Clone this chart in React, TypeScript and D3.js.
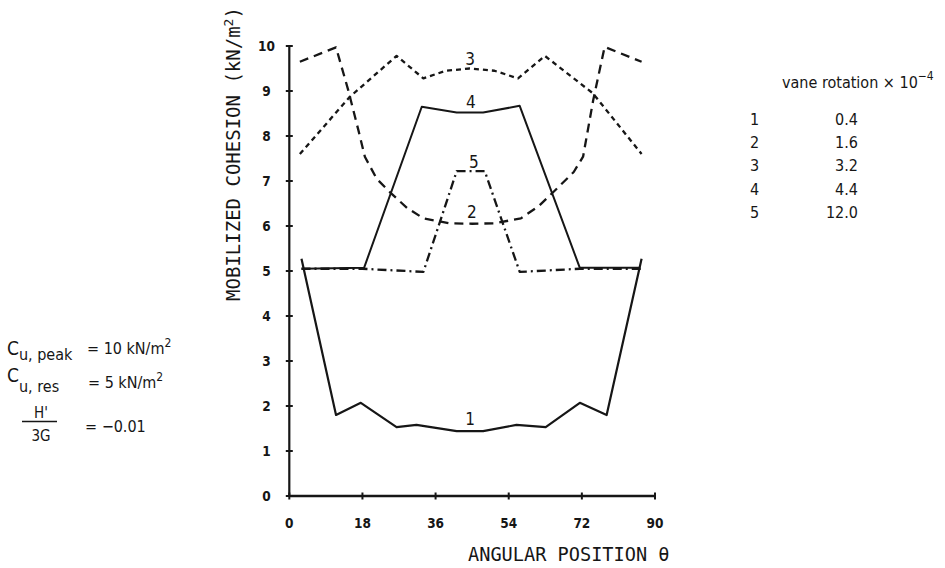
import React from "react";
import * as d3 from "d3";

// Angular positions (deg) and mobilized cohesion (kN/m2) per curve
const x1 = [3, 11.5, 17.6, 26.4, 31.3, 41.2, 47.7, 55.9, 63.1, 71.5, 78.1, 86.7];
const y1 = [5.27, 1.8, 2.07, 1.53, 1.58, 1.44, 1.44, 1.58, 1.53, 2.07, 1.8, 5.27];

const x2 = [2.6, 11.5, 14.5, 17, 18.6, 21.5, 25, 29, 33, 39.5, 45, 50.5, 57, 61.5, 65.5, 70, 72.3, 74.8, 77.6, 86.7];
const y2 = [9.65, 9.97, 9.02, 8.13, 7.54, 7.05, 6.73, 6.4, 6.17, 6.06, 6.05, 6.06, 6.17, 6.45, 6.8, 7.2, 7.54, 8.8, 9.98, 9.65];

const x3 = [2.6, 14.9, 26.4, 33, 38.5, 44.4, 50.5, 56.3, 62.9, 74.7, 86.7];
const y3 = [7.6, 8.87, 9.78, 9.28, 9.45, 9.5, 9.45, 9.28, 9.78, 8.95, 7.6];

const x4 = [3, 18.4, 32.6, 41.2, 47.7, 56.7, 71.5, 86.3];
const y4 = [5.05, 5.07, 8.65, 8.52, 8.52, 8.67, 5.07, 5.07];

const x5 = [3, 18, 33, 41.2, 48.1, 56.7, 71.5, 86.5];
const y5 = [5.05, 5.05, 4.98, 7.22, 7.22, 4.98, 5.05, 5.05];

const curveIds = ["1", "2", "3", "4", "5"];
const rotations = ["0.4", "1.6", "3.2", "4.4", "12.0"];
// label anchor positions in data units
const labelX = [44.5, 44.9, 44.5, 44.7, 45.4];
const labelY = [1.58, 6.17, 9.57, 8.63, 7.3];

const xTicks = [0, 18, 36, 54, 72, 90];
const yTicks = [0, 1, 2, 3, 4, 5, 6, 7, 8, 9, 10];

const W = 945;
const H = 568;

export default function App() {
  const x = d3.scaleLinear().domain([0, 90]).range([289.3, 655]);
  const y = d3.scaleLinear().domain([0, 10]).range([496, 46]);
  const line = d3
    .line<[number, number]>()
    .x((d) => x(d[0]))
    .y((d) => y(d[1]));
  const series: { xs: number[]; ys: number[]; dash?: string; w: number }[] = [
    { xs: x1, ys: y1, w: 2.2 },
    { xs: x2, ys: y2, dash: "9 6", w: 2.3 },
    { xs: x3, ys: y3, dash: "5 4", w: 2.3 },
    { xs: x4, ys: y4, w: 2 },
    { xs: x5, ys: y5, dash: "9 4 2 4", w: 2.3 },
  ];
  const mono = "'DejaVu Sans Mono', monospace";
  const sans = "'DejaVu Sans Condensed', 'DejaVu Sans', sans-serif";
  const ink = "#161616";
  return (
    <svg
      width={W}
      height={H}
      style={{ position: "absolute", left: 0, top: 0, background: "#fff" }}
    >
      <rect x={0} y={0} width={W} height={H} fill="#fff" />
      {/* axes */}
      <line x1={x(0)} x2={x(0)} y1={y(0)} y2={y(10)} stroke={ink} strokeWidth={2.2} />
      <line x1={x(0)} x2={x(90)} y1={y(0)} y2={y(0)} stroke={ink} strokeWidth={2.4} />
      {yTicks.map((t) => (
        <g key={"yt" + t}>
          <line x1={x(0) - 3.5} x2={x(0) + 3.5} y1={y(t)} y2={y(t)} stroke={ink} strokeWidth={2} />
          <text
            x={266.5}
            y={y(t) + 5}
            textAnchor="middle"
            fontFamily={sans}
            fontWeight="bold"
            fontSize={13.5}
            fill={ink}
          >
            {t}
          </text>
        </g>
      ))}
      {xTicks.map((t) => (
        <g key={"xt" + t}>
          <line x1={x(t)} x2={x(t)} y1={y(0) - 3.5} y2={y(0) + 3.5} stroke={ink} strokeWidth={2} />
          <text
            x={x(t)}
            y={528}
            textAnchor="middle"
            fontFamily={sans}
            fontWeight="bold"
            fontSize={13.5}
            fill={ink}
          >
            {t}
          </text>
        </g>
      ))}
      <text x={468} y={561} fontFamily={mono} fontSize={18.6} fill={ink}>
        ANGULAR POSITION θ
      </text>
      <text
        transform={`translate(240,${154}) rotate(-90)`}
        textAnchor="middle"
        fontFamily={mono}
        fontSize={19}
        fill={ink}
      >
        MOBILIZED COHESION (kN/m
        <tspan fontSize={13} dy={-7}>2</tspan>
        <tspan dy={7}>)</tspan>
      </text>

      {/* curves */}
      {series.map((s, i) => (
        <path
          key={"s" + i}
          d={line(s.xs.map((v, j) => [v, s.ys[j]]) as [number, number][]) || ""}
          fill="none"
          stroke={ink}
          strokeWidth={s.w}
          strokeDasharray={s.dash}
          strokeLinejoin="round"
        />
      ))}
      {curveIds.map((c, i) => (
        <text
          key={"cl" + c}
          x={x(labelX[i])}
          y={y(labelY[i])}
          textAnchor="middle"
          fontFamily={sans}
          fontSize={17}
          fill={ink}
        >
          {c}
        </text>
      ))}

      {/* legend */}
      <text x={782} y={88} fontFamily={sans} fontSize={16} fill={ink}>
        vane rotation × 10
        <tspan fontSize={12} dy={-8}>−4</tspan>
      </text>
      {curveIds.map((c, i) => (
        <g key={"lg" + c}>
          <text x={750} y={125 + i * 23.2} fontFamily={sans} fontSize={16} fill={ink}>
            {c}
          </text>
          <text
            x={858}
            y={125 + i * 23.2}
            textAnchor="end"
            fontFamily={sans}
            fontSize={16}
            fill={ink}
          >
            {rotations[i]}
          </text>
        </g>
      ))}

      {/* parameters */}
      <text x={7} y={355} fontFamily={sans} fontSize={19} fill={ink}>
        C
        <tspan fontSize={16} dy={5}>u, peak</tspan>
      </text>
      <text x={87} y={354} fontFamily={sans} fontSize={16} fill={ink}>
        = 10 kN/m
        <tspan fontSize={12} dy={-7}>2</tspan>
      </text>
      <text x={7} y={382} fontFamily={sans} fontSize={19} fill={ink}>
        C
        <tspan fontSize={16} dy={10}>u, res</tspan>
      </text>
      <text x={88} y={388} fontFamily={sans} fontSize={16} fill={ink}>
        =  5 kN/m
        <tspan fontSize={12} dy={-7}>2</tspan>
      </text>
      <text x={41} y={418} textAnchor="middle" fontFamily={sans} fontSize={15} fill={ink}>
        H'
      </text>
      <line x1={22} x2={57} y1={421.5} y2={421.5} stroke={ink} strokeWidth={1.6} />
      <text x={41} y={441} textAnchor="middle" fontFamily={sans} fontSize={15} fill={ink}>
        3G
      </text>
      <text x={85} y={432} fontFamily={sans} fontSize={16} fill={ink}>
        = −0.01
      </text>
    </svg>
  );
}
